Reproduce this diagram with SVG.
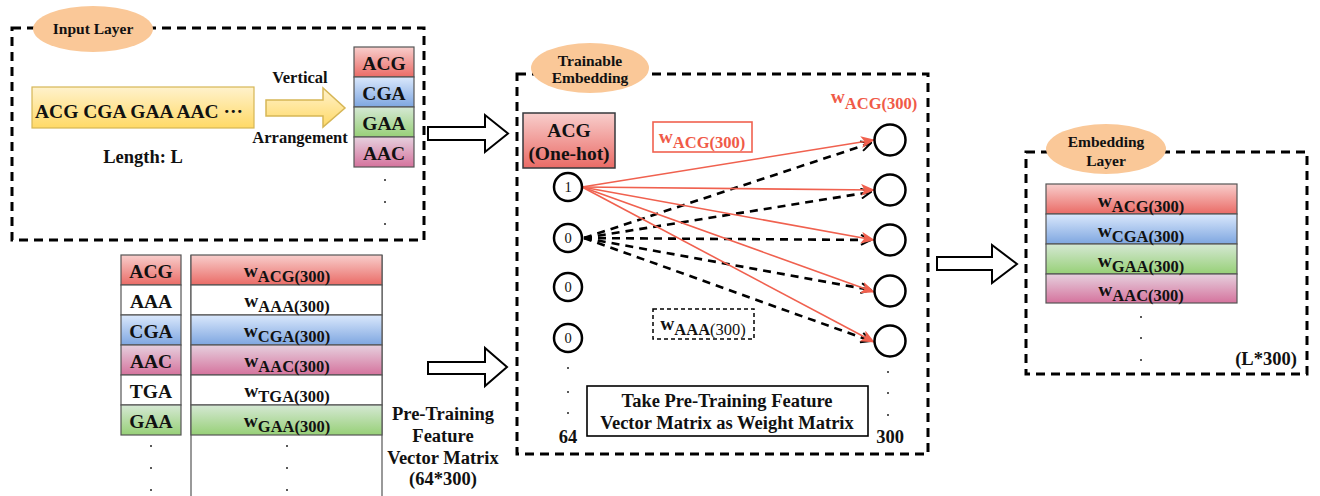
<svg xmlns="http://www.w3.org/2000/svg" width="1320" height="496" viewBox="0 0 1320 496">
  <defs>
    <linearGradient id="gRed" x1="0" y1="0" x2="0" y2="1">
      <stop offset="0" stop-color="#F8CECC"/><stop offset="1" stop-color="#EA6B66"/>
    </linearGradient>
    <linearGradient id="gBlue" x1="0" y1="0" x2="0" y2="1">
      <stop offset="0" stop-color="#DAE8FC"/><stop offset="1" stop-color="#7EA6E0"/>
    </linearGradient>
    <linearGradient id="gGreen" x1="0" y1="0" x2="0" y2="1">
      <stop offset="0" stop-color="#D5E8D4"/><stop offset="1" stop-color="#97D077"/>
    </linearGradient>
    <linearGradient id="gPink" x1="0" y1="0" x2="0" y2="1">
      <stop offset="0" stop-color="#E6D0DE"/><stop offset="1" stop-color="#D5739D"/>
    </linearGradient>
    <linearGradient id="gYellow" x1="0" y1="0" x2="0" y2="1">
      <stop offset="0" stop-color="#FFF2CC"/><stop offset="1" stop-color="#FFD966"/>
    </linearGradient>
    <marker id="redHead" viewBox="0 0 14 12" refX="13" refY="6" markerWidth="14" markerHeight="12" markerUnits="userSpaceOnUse" orient="auto">
      <path d="M0,0 L14,6 L0,12 L3.5,6 Z" fill="#F0614F"/>
    </marker>
    <marker id="openHead" viewBox="0 0 12 12" refX="11" refY="6" markerWidth="12" markerHeight="12" markerUnits="userSpaceOnUse" orient="auto">
      <path d="M1,1 L11,6 L1,11" fill="none" stroke="#000" stroke-width="2"/>
    </marker>
  </defs>
  <style>
    text { font-family: "Liberation Serif", "Times New Roman", serif; font-weight: bold; fill: #111; }
    .c { text-anchor: middle; }
    .t15 { font-size: 15.5px; }
    .t16 { font-size: 16.5px; }
    .t18 { font-size: 18.5px; }
    .t19 { font-size: 19.5px; }
    .num { font-size: 14.5px; font-weight: normal; }
    .w { font-size: 19.5px; }
    .sub { font-size: 16.5px; }
    .reg { font-weight: normal; }
    .red { fill: #F05A48; }
    .frame { fill: none; stroke: #000; stroke-width: 3; stroke-dasharray: 9 6; }
    .tag { fill: #FAC898; }
    .row { stroke: #555; stroke-width: 1.2; }
    .node { fill: #fff; stroke: #000; stroke-width: 2.5; }
    .dot { fill: #222; }
    .hollow { fill: #fff; stroke: #000; stroke-width: 2; }
    .redline { stroke: #F0614F; stroke-width: 1.6; fill: none; marker-end: url(#redHead); }
    .dash { stroke: #000; stroke-width: 2.6; stroke-dasharray: 8 6; fill: none; marker-end: url(#openHead); }
  </style>

  <!-- Input layer -->
  <g id="input-layer">
    <rect class="frame" x="12" y="28" width="412" height="212"/>
    <ellipse class="tag" cx="93" cy="29" rx="60" ry="23"/>
    <text class="c t15" x="93" y="34">Input Layer</text>
    <rect x="32" y="87" width="222" height="41" fill="url(#gYellow)" stroke="#D6B656" stroke-width="1.2"/>
    <text class="t19" x="35" y="118">ACG CGA GAA AAC ···</text>
    <text class="c t18" x="143" y="163">Length: L</text>
    <polygon points="266,100 323,100 323,88 345,108 323,127 323,116 266,116" fill="url(#gYellow)" stroke="#D6B656" stroke-width="1.5"/>
    <text class="c t16" x="300" y="83">Vertical</text>
    <text class="c t16" x="300" y="143">Arrangement</text>
    <rect class="row" x="354" y="47" width="60" height="30" fill="url(#gRed)"/>
    <rect class="row" x="354" y="77" width="60" height="30" fill="url(#gBlue)"/>
    <rect class="row" x="354" y="107" width="60" height="30" fill="url(#gGreen)"/>
    <rect class="row" x="354" y="137" width="60" height="30" fill="url(#gPink)"/>
    <text class="c t19" x="384" y="70">ACG</text>
    <text class="c t19" x="384" y="100">CGA</text>
    <text class="c t19" x="384" y="130">GAA</text>
    <text class="c t19" x="384" y="160">AAC</text>
    <circle class="dot" cx="385" cy="180" r="1"/>
    <circle class="dot" cx="385" cy="202" r="1"/>
    <circle class="dot" cx="385" cy="224" r="1"/>
  </g>

  <!-- Pre-training feature vector matrix -->
  <g id="pretrain-matrix">
    <rect class="row" x="121" y="255" width="60" height="30" fill="url(#gRed)"/>
    <rect class="row" x="121" y="285" width="60" height="30" fill="#fff"/>
    <rect class="row" x="121" y="315" width="60" height="30" fill="url(#gBlue)"/>
    <rect class="row" x="121" y="345" width="60" height="30" fill="url(#gPink)"/>
    <rect class="row" x="121" y="375" width="60" height="30" fill="#fff"/>
    <rect class="row" x="121" y="405" width="60" height="30" fill="url(#gGreen)"/>
    <text class="c t19" x="151" y="278">ACG</text>
    <text class="c t19" x="151" y="308">AAA</text>
    <text class="c t19" x="151" y="338">CGA</text>
    <text class="c t19" x="151" y="368">AAC</text>
    <text class="c t19" x="151" y="398">TGA</text>
    <text class="c t19" x="151" y="428">GAA</text>
    <circle class="dot" cx="151" cy="446" r="1"/>
    <circle class="dot" cx="151" cy="468" r="1"/>
    <circle class="dot" cx="151" cy="490" r="1"/>

    <line x1="191" y1="255" x2="191" y2="496" stroke="#555" stroke-width="1.2"/>
    <line x1="382" y1="255" x2="382" y2="496" stroke="#555" stroke-width="1.2"/>
    <rect class="row" x="191" y="255" width="191" height="30" fill="url(#gRed)"/>
    <rect class="row" x="191" y="285" width="191" height="30" fill="#fff"/>
    <rect class="row" x="191" y="315" width="191" height="30" fill="url(#gBlue)"/>
    <rect class="row" x="191" y="345" width="191" height="30" fill="url(#gPink)"/>
    <rect class="row" x="191" y="375" width="191" height="30" fill="#fff"/>
    <rect class="row" x="191" y="405" width="191" height="30" fill="url(#gGreen)"/>
    <text class="c" x="287" y="277"><tspan class="w">w</tspan><tspan class="sub" dy="5">ACG(300)</tspan></text>
    <text class="c" x="287" y="307"><tspan class="w">w</tspan><tspan class="sub" dy="5">AAA(300)</tspan></text>
    <text class="c" x="287" y="337"><tspan class="w">w</tspan><tspan class="sub" dy="5">CGA(300)</tspan></text>
    <text class="c" x="287" y="367"><tspan class="w">w</tspan><tspan class="sub" dy="5">AAC(300)</tspan></text>
    <text class="c" x="287" y="397"><tspan class="w">w</tspan><tspan class="sub" dy="5">TGA(300)</tspan></text>
    <text class="c" x="287" y="427"><tspan class="w">w</tspan><tspan class="sub" dy="5">GAA(300)</tspan></text>
    <circle class="dot" cx="287" cy="446" r="1"/>
    <circle class="dot" cx="287" cy="468" r="1"/>
    <circle class="dot" cx="287" cy="490" r="1"/>

    <text class="c t18" x="443" y="420">Pre-Training</text>
    <text class="c t18" x="443" y="442">Feature</text>
    <text class="c t18" x="443" y="464">Vector Matrix</text>
    <text class="c t18" x="443" y="485">(64*300)</text>
  </g>

  <!-- Trainable embedding -->
  <g id="trainable-embedding">
    <rect class="frame" x="517" y="74" width="411" height="380"/>
    <ellipse class="tag" cx="590" cy="68" rx="59" ry="25"/>
    <text class="c t15" x="590" y="66">Trainable</text>
    <text class="c t15" x="590" y="83">Embedding</text>
    <rect x="523" y="113" width="92" height="55" fill="url(#gRed)" stroke="#36393D" stroke-width="1.5"/>
    <text class="c t19" x="569" y="137">ACG</text>
    <text class="c t19" x="569" y="160">(One-hot)</text>
  </g>

  <g id="weight-label-acg">
    <rect x="653" y="122" width="99" height="30" fill="#fff" stroke="#F0614F" stroke-width="1.6"/>
    <text class="c red" x="702" y="143"><tspan class="w">w</tspan><tspan class="sub" dy="5">ACG(300)</tspan></text>
    <text class="c red" x="874" y="103"><tspan class="w">w</tspan><tspan class="sub" dy="6">ACG(300)</tspan></text>
  </g>

  <!-- Connectors -->
  <g id="connectors">
    <polygon class="hollow" points="428,127 485,127 485,115 508,133.5 485,152 485,140 428,140"/>
    <polygon class="hollow" points="428,362 485,362 485,348 507,367 485,386 485,374 428,374"/>
    <polygon class="hollow" points="937,257 992,257 992,245 1017,264 992,283 992,270 937,270"/>

    <line class="dash" x1="584" y1="238" x2="871" y2="143"/>
    <line class="dash" x1="584" y1="238" x2="871" y2="192"/>
    <line class="dash" x1="584" y1="238" x2="871" y2="240"/>
    <line class="dash" x1="584" y1="238" x2="871" y2="290"/>
    <line class="dash" x1="584" y1="238" x2="871" y2="341"/>

    <line class="redline" x1="582" y1="187" x2="874" y2="140"/>
    <line class="redline" x1="582" y1="187" x2="874" y2="190"/>
    <line class="redline" x1="582" y1="187" x2="874" y2="240"/>
    <line class="redline" x1="582" y1="187" x2="874" y2="292"/>
    <line class="redline" x1="582" y1="187" x2="874" y2="342"/>
  </g>

  <g id="input-nodes">
    <circle class="node" cx="568" cy="187" r="14"/>
    <circle class="node" cx="568" cy="238" r="14"/>
    <circle class="node" cx="568" cy="287" r="14"/>
    <circle class="node" cx="568" cy="338" r="14"/>
    <text class="c num" x="568" y="192">1</text>
    <text class="c num" x="568" y="243">0</text>
    <text class="c num" x="568" y="292">0</text>
    <text class="c num" x="568" y="343">0</text>
    <circle class="dot" cx="568" cy="368" r="1"/>
    <circle class="dot" cx="568" cy="392" r="1"/>
    <circle class="dot" cx="568" cy="413" r="1"/>
    <text class="c t18" x="568" y="443">64</text>
  </g>

  <g id="output-nodes">
    <circle class="node" cx="890" cy="140" r="15.5"/>
    <circle class="node" cx="890" cy="190" r="15.5"/>
    <circle class="node" cx="890" cy="240" r="15.5"/>
    <circle class="node" cx="890" cy="291" r="15.5"/>
    <circle class="node" cx="890" cy="341" r="15.5"/>
    <circle class="dot" cx="888" cy="372" r="1"/>
    <circle class="dot" cx="888" cy="393" r="1"/>
    <circle class="dot" cx="888" cy="415" r="1"/>
    <text class="c t18" x="890" y="443">300</text>
  </g>

  <g id="weight-label-aaa">
    <rect x="653" y="309" width="101" height="30" fill="#fff" stroke="#000" stroke-width="1.5" stroke-dasharray="4 3"/>
    <text class="c" x="703" y="330"><tspan class="w">w</tspan><tspan class="sub" dy="5">AAA</tspan><tspan class="sub reg">(300)</tspan></text>
  </g>

  <g id="note">
    <rect x="587" y="386" width="281" height="50" fill="#fff" stroke="#000" stroke-width="1.6"/>
    <text class="c t18" x="727" y="407">Take Pre-Training Feature</text>
    <text class="c t18" x="727" y="429">Vector Matrix as Weight Matrix</text>
  </g>

  <!-- Embedding layer -->
  <g id="embedding-layer">
    <rect class="frame" x="1026" y="152" width="281" height="222"/>
    <ellipse class="tag" cx="1106" cy="149" rx="60" ry="25"/>
    <text class="c t15" x="1106" y="147">Embedding</text>
    <text class="c t15" x="1106" y="166">Layer</text>
    <rect class="row" x="1046" y="184" width="191" height="30" fill="url(#gRed)"/>
    <rect class="row" x="1046" y="214" width="191" height="30" fill="url(#gBlue)"/>
    <rect class="row" x="1046" y="244" width="191" height="30" fill="url(#gGreen)"/>
    <rect class="row" x="1046" y="274" width="191" height="29" fill="url(#gPink)"/>
    <text class="c" x="1141" y="207"><tspan class="w">w</tspan><tspan class="sub" dy="5">ACG(300)</tspan></text>
    <text class="c" x="1141" y="237"><tspan class="w">w</tspan><tspan class="sub" dy="5">CGA(300)</tspan></text>
    <text class="c" x="1141" y="267"><tspan class="w">w</tspan><tspan class="sub" dy="5">GAA(300)</tspan></text>
    <text class="c" x="1141" y="296"><tspan class="w">w</tspan><tspan class="sub" dy="5">AAC(300)</tspan></text>
    <circle class="dot" cx="1141" cy="317" r="1"/>
    <circle class="dot" cx="1141" cy="338" r="1"/>
    <circle class="dot" cx="1141" cy="360" r="1"/>
    <text class="c t18" x="1266" y="365">(L*300)</text>
  </g>
</svg>
